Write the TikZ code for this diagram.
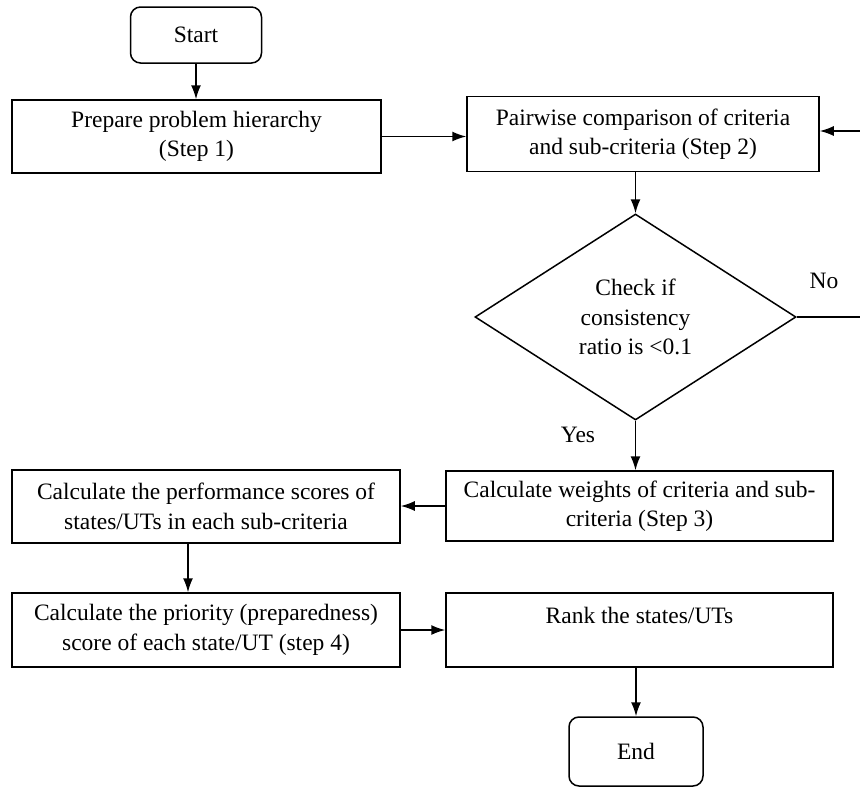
\documentclass[tikz,border=0pt]{standalone}
\usepackage{fontspec}
\setmainfont{Liberation Serif}
\usetikzlibrary{shapes.geometric,arrows.meta}

\begin{document}
\begin{tikzpicture}[x=1pt,y=-1pt,line width=1.5pt]
\tikzset {box/.style={draw,rectangle,inner sep=0pt,align=center},
          term/.style={box,rounded corners=10pt},
          arr/.style={-{Latex[length=14pt,width=10pt]}},
          every node/.style={font=\fontsize{23.5}{29.5}\selectfont}}
\useasboundingbox (0,0) rectangle (860,787);
% boxes
\node[term,minimum width=131,minimum height=56] (start) at (196,35) {Start};
\node[box,minimum width=369,minimum height=73] (prep) at (196.5,136.5) {Prepare problem hierarchy\\(Step 1)};
\node[box,minimum width=352,minimum height=75] (pair) at (643,134) {Pairwise comparison of criteria\\and sub-criteria (Step 2)};
\node[draw,diamond,inner sep=0pt,minimum width=321,minimum height=206,align=center] (check) at (635.5,317) {Check if\\consistency\\ratio is <0.1};
\node[box,minimum width=387,minimum height=70] (weights) at (639.5,506) {Calculate weights of criteria and sub-\\criteria (Step 3)};
\node[box,minimum width=388,minimum height=73] (perf) at (206,506.5) {Calculate the performance scores of\\states/UTs in each sub-criteria};
\node[box,minimum width=388,minimum height=74] (prio) at (206,630) {Calculate the priority (preparedness)\\score of each state/UT (step 4)};
\node[box,minimum width=387,minimum height=74] (rank) at (639.5,630) {Rank the states/UTs\\~};
\node[term,minimum width=134,minimum height=69] (end) at (636,751.5) {End};
% labels
\node (no) at (824,281) {No};
\node (yes) at (578,435) {Yes};
% arrows
\coordinate (back) at (866,317);
\draw[arr] (start.south) -- (start.south |- prep.north);
\draw[arr] (prep.east) -- (prep.east -| pair.west);
\draw[arr] (check.north |- pair.south) -- (check.north);
\draw[arr] (check.east) -- (back) |- ([yshift=3]pair.east);
\draw[arr] (check.south) -- (check.south |- weights.north);
\draw[arr] (weights.west) -- (weights.west -| perf.east);
\draw[arr] ([xshift=-18]perf.south) -- ([xshift=-18]perf.south |- prio.north);
\draw[arr] (prio.east) -- (prio.east -| rank.west);
\draw[arr] (end.north |- rank.south) -- (end.north);
\end{tikzpicture}
\end{document}
